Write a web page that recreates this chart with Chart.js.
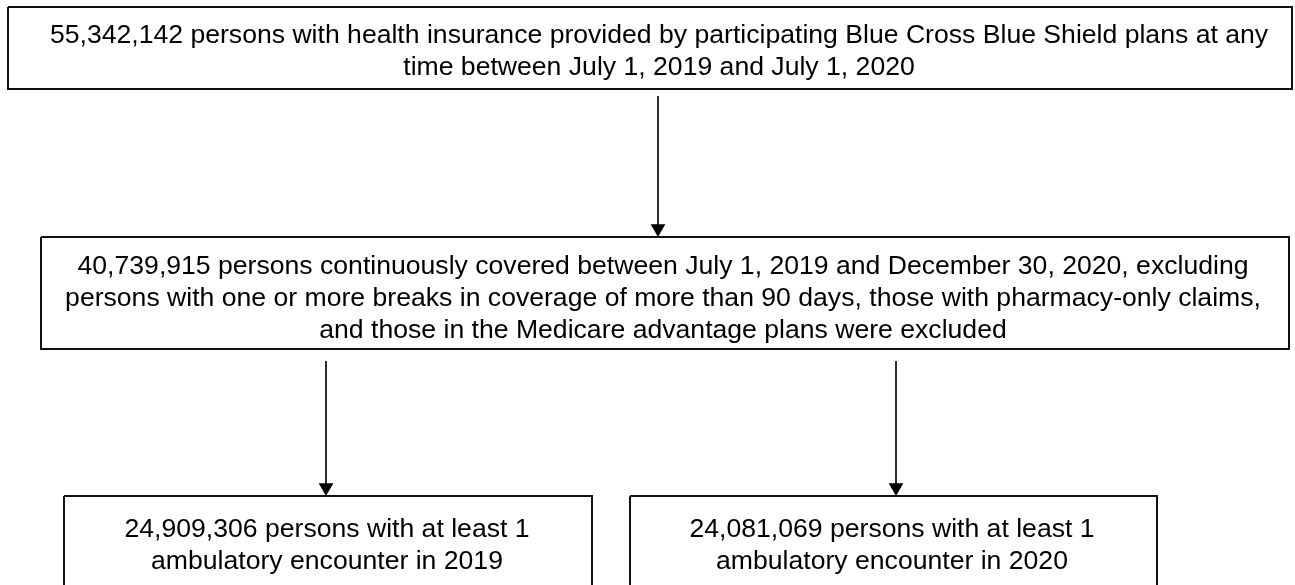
<!DOCTYPE html>
<html>
<head>
<meta charset="utf-8">
<script src="https://cdn.jsdelivr.net/npm/chart.js@4/dist/chart.umd.min.js"></script>
<style>
  html, body { margin: 0; padding: 0; background: #ffffff; }
  #wrap { width: 1295px; height: 585px; }
</style>
</head>
<body>
<div id="wrap"><canvas id="c" width="1295" height="585"></canvas></div>
<script>
// ---- Data ----
const stageCounts = [55342142, 40739915, 24909306, 24081069];
const stageText = [
  ["{n} persons with health insurance provided by participating Blue Cross Blue Shield plans at any",
   "time between July 1, 2019 and July 1, 2020"],
  ["{n} persons continuously covered between July 1, 2019 and December 30, 2020, excluding",
   "persons with one or more breaks in coverage of more than 90 days, those with pharmacy-only claims,",
   "and those in the Medicare advantage plans were excluded"],
  ["{n} persons with at least 1",
   "ambulatory encounter in 2019"],
  ["{n} persons with at least 1",
   "ambulatory encounter in 2020"]
];
const links = [[0, 1], [1, 2], [1, 3]];

// ---- Layout (diagram coordinates, same units as the chart scales) ----
const layout = {
  boxes: [
    { l: 8,  r: 1292, t: 7,   b: 89,  textX: 659, baselines: [43, 75],        font: 26.6 },
    { l: 41, r: 1289, t: 237, b: 349, textX: 663, baselines: [274, 306, 338], font: 26.6 },
    { l: 64, r: 592,  t: 496, b: 620, textX: 327, baselines: [537, 569],      font: 26.6 },
    { l: 630, r: 1157, t: 496, b: 620, textX: 892, baselines: [537, 569],     font: 26.6 }
  ],
  arrows: [
    { x: 658, y0: 96,  y1: 237 },
    { x: 326, y0: 361, y1: 496 },
    { x: 896, y0: 361, y1: 496 }
  ],
  headR: 8.5
};

function fmt(n) { return n.toLocaleString('en-US'); }

const datasets = [];
layout.boxes.forEach((b, i) => {
  datasets.push({
    label: 'box' + i,
    data: [{x: b.l, y: b.t}, {x: b.r, y: b.t}, {x: b.r, y: b.b}, {x: b.l, y: b.b}, {x: b.l, y: b.t}],
    showLine: true, borderColor: '#111111', borderWidth: 2, pointRadius: 0,
    fill: false, tension: 0, borderJoinStyle: 'miter'
  });
});
links.forEach((lk, i) => {
  const a = layout.arrows[i];
  datasets.push({
    label: 'arrow' + i,
    data: [{x: a.x, y: a.y0}, {x: a.x, y: a.y1 - layout.headR}],
    showLine: true, borderColor: '#111111', borderWidth: 1, tension: 0,
    pointRadius: [0, layout.headR], pointStyle: 'triangle', pointRotation: 180,
    pointBackgroundColor: '#000000', pointBorderColor: '#000000', pointBorderWidth: 0
  });
});

const textPlugin = {
  id: 'boxText',
  afterDatasetsDraw(chart) {
    const ctx = chart.ctx, xs = chart.scales.x, ys = chart.scales.y;
    ctx.save();
    ctx.fillStyle = '#000000';
    ctx.textAlign = 'center';
    ctx.textBaseline = 'alphabetic';
    layout.boxes.forEach((b, i) => {
      ctx.font = b.font + 'px "Liberation Sans", Arial, sans-serif';
      const cx = xs.getPixelForValue(b.textX);
      stageText[i].forEach((line, j) => {
        const txt = line.replace('{n}', fmt(stageCounts[i]));
        ctx.fillText(txt, cx, ys.getPixelForValue(b.baselines[j]));
      });
    });
    ctx.restore();
  }
};

new Chart(document.getElementById('c'), {
  type: 'scatter',
  data: { datasets },
  options: {
    responsive: false,
    animation: false,
    layout: { padding: 0, autoPadding: false },
    plugins: { legend: { display: false }, tooltip: { enabled: false } },
    scales: {
      x: { type: 'linear', min: 0, max: 1295, display: false },
      y: { type: 'linear', min: 0, max: 585, reverse: true, display: false }
    }
  },
  plugins: [textPlugin]
});
</script>
</body>
</html>
